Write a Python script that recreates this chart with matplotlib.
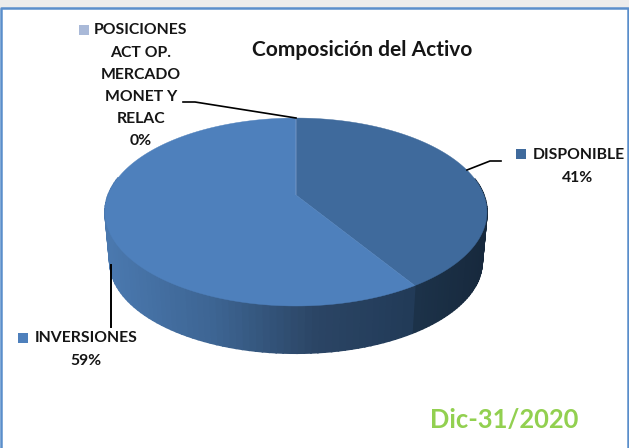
import numpy as np
import matplotlib
matplotlib.use("Agg")
import matplotlib.pyplot as plt
from matplotlib.colors import LinearSegmentedColormap

plt.rcParams['font.family'] = ['Lato', 'DejaVu Sans']

# data
categories = ["DISPONIBLE", "INVERSIONES", "POSICIONES\nACT OP.\nMERCADO\nMONET Y\nRELAC"]
values = [41, 59, 0]
percent_labels = ["41%", "59%", "0%"]
top_colors = ["#3f6a9c", "#4e80bc", "#a9b9d8"]
title = "Composición del Activo"
date_label = "Dic-31/2020"

# pie geometry in pixels, the 3d tilt is done with a small perspective
cx, cy = 296, 195
rx, ry = 187.8, 90.9
k = 0.181
drop = 50
shrink = 0.975

wall1 = LinearSegmentedColormap.from_list("w1", ["#4a78ae", "#3d6593", "#2b4565", "#213a57"])
wall2 = LinearSegmentedColormap.from_list("w2", ["#1c3249", "#17293d"])


def project(ang, scale=1.0, dy=0):
    # ang is clockwise from the top of the pie
    u = np.sin(ang)
    v = np.cos(ang)
    w = 1 + k * v
    return cx + scale * rx * u / w, cy + dy - scale * ry * v / w


fig = plt.figure(figsize=(6.29, 4.48), dpi=100)
ax = fig.add_axes([0, 0, 1, 1])
ax.set_xlim(0, 629)
ax.set_ylim(448, 0)
ax.axis("off")

# frame of the screenshot
ax.fill([0, 629, 629, 0], [0, 0, 8, 8], color="#ececec", lw=0)
ax.plot([1, 1, 627.5, 627.5], [448, 8.5, 8.5, 448], color="#5a8ecb", lw=1.8)

fracs = np.array(values) / sum(values)
edges = np.concatenate(([0], np.cumsum(fracs))) * 2 * np.pi

# side wall first, the top face goes over it
for i in range(len(values)):
    if values[i] == 0:
        continue
    angs = np.linspace(edges[i], edges[i + 1], 120)
    x_top, y_top = project(angs)
    x_bot, y_bot = project(angs, shrink, drop)
    visible = np.nonzero(np.cos(angs) < 0.2)[0]
    for j in visible[:-1]:
        xs = [x_top[j], x_top[j + 1], x_bot[j + 1], x_bot[j]]
        ys = [y_top[j], y_top[j + 1], y_bot[j + 1], y_bot[j]]
        if i == 0:
            c = wall2(np.clip((np.mean(xs) - 417) / 65, 0, 1))
        else:
            c = wall1(np.clip((np.mean(xs) - 110) / 307, 0, 1))
        ax.fill(xs, ys, color=c, lw=1.2)

# top face
for i in range(len(values)):
    angs = np.linspace(edges[i], edges[i + 1], 200)
    x_top, y_top = project(angs)
    ax.fill(np.r_[cx, x_top], np.r_[cy, y_top], color=top_colors[i], lw=0.3)

# leader lines
ax.plot([183, 195, 296], [102, 102, 118], color="black", lw=1.2)
ax.plot([467, 490, 501], [170, 161, 161], color="black", lw=1.2)
ax.plot([111, 111], [265, 327], color="black", lw=1.4)

# labels
txt = dict(fontsize=11.3, fontweight="bold", color="#151515", ha="center", va="center")
pos_lines = categories[2].split("\n")
ax.text(140.5, 30.5, pos_lines[0], **txt)
for n, line in enumerate(pos_lines[1:]):
    ax.text(141, 53 + n * 22, line, **txt)
ax.text(141, 141, percent_labels[2], **txt)
ax.text(579, 155, categories[0], **txt)
ax.text(578, 178, percent_labels[0], **txt)
ax.text(86.5, 338, categories[1], **txt)
ax.text(86, 361, percent_labels[1], **txt)

# legend squares beside the labels
for (sx, sy), c in zip([(521, 154), (23, 338), (84, 30)], top_colors):
    ax.scatter([sx], [sy], marker="s", s=44, color=c, lw=0)

ax.text(362, 50, title, fontsize=15, fontweight="bold", color="#151515", ha="center", va="center")
ax.text(504, 420, date_label, fontsize=18.4, fontweight="bold", color="#92d050", ha="center", va="center")

fig.savefig("out.png", dpi=100)
